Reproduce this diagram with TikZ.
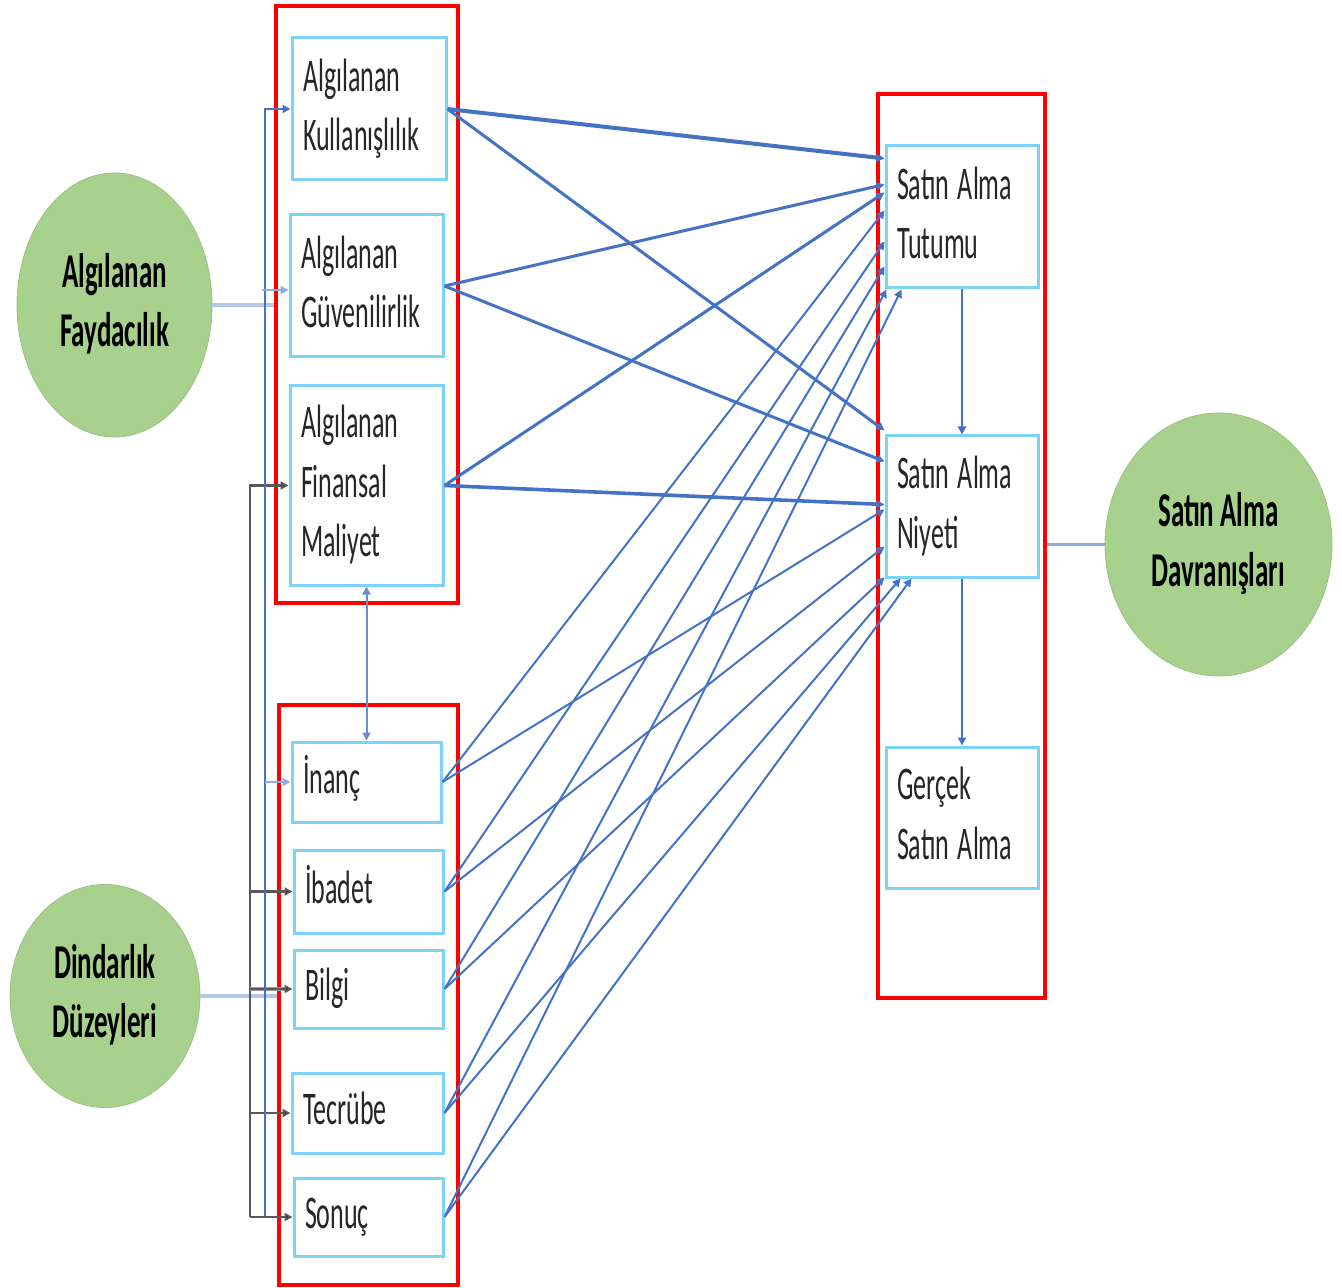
\documentclass[tikz,border=0pt]{standalone}
\usepackage{fontspec}
\setmainfont{Carlito}
\usepackage{graphicx}
\usetikzlibrary{arrows.meta,calc,shapes.geometric}

\definecolor{redc}{HTML}{FF0000}
\definecolor{boxc}{HTML}{7DD3F7}
\definecolor{linec}{HTML}{4472C4}
\definecolor{palec}{HTML}{B4C7E7}
\definecolor{midc}{HTML}{8FAADC}
\definecolor{grayc}{HTML}{595959}
\definecolor{greenc}{HTML}{A9D18E}
\definecolor{txtc}{HTML}{262626}

% tall, narrow lettering: a tabular stretched vertically
\newcommand{\vtx}[2]{\scalebox{1}[1.8]{\begin{tabular}{@{}#1@{}}#2\end{tabular}}}

\begin{document}
\begin{tikzpicture}[x=0.5pt,y=-0.5pt,
  frame/.style={draw=redc, line width=2pt, inner sep=0pt},
  cell/.style={draw=boxc, line width=1.5pt, fill=white, inner xsep=5.5pt, inner ysep=0pt,
    align=left, text=txtc, font=\fontsize{13}{16.5}\selectfont},
  cellsz/.style 2 args={cell, text width=#1, minimum height=#2},
  blob/.style={ellipse, fill=greenc, draw=greenc!92!black, line width=0.4pt, inner sep=0pt,
    text=black, font=\bfseries\fontsize{13.5}{16.5}\selectfont},
  arr/.style={-{Triangle[length=4pt,width=4pt]}},
  conn/.style={arr, draw=linec, line width=1pt},
  heavyconn/.style={arr, draw=linec, line width=1.5pt},
  bluefeed/.style={arr, draw=linec, line width=1.2pt},
  lightfeed/.style={arr, draw=midc, line width=1.2pt},
  grayfeed/.style={draw=grayc, line width=1.2pt, -{Triangle[length=4pt,width=4pt,fill=black]}},
  paleline/.style={draw=palec, line width=2.2pt},
]
\useasboundingbox (0,0) rectangle (1342,1288);

% group frames
\node[frame, minimum width=91pt, minimum height=298.5pt] (RB1) at (367,304.5) {};
\node[frame, minimum width=89.5pt, minimum height=290pt] (RB2) at (368.5,995) {};
\node[frame, minimum width=83.5pt, minimum height=452pt] (RB3) at (961.5,546) {};

% perceived factors
\node[cellsz={66pt}{71pt}] (KUL) at (369,109) {\noindent\vtx{l}{Algılanan\\Kullanışlılık}};
\node[cellsz={65.5pt}{71pt}] (GUV) at (366.5,286) {\noindent\vtx{l}{Algılanan\\Güvenilirlik}};
\node[cellsz={65.5pt}{99.5pt}] (FIN) at (366.5,485.5) {\noindent\vtx{l}{Algılanan\\Finansal\\Maliyet}};

% religiosity dimensions
\node[cellsz={63.5pt}{40pt}] (INA) at (366.5,782) {\noindent\vtx{l}{İnanç}};
\node[cellsz={63.5pt}{41.5pt}] (IBA) at (368.5,891.5) {\noindent\vtx{l}{İbadet}};
\node[cellsz={63.5pt}{39pt}] (BIL) at (368.5,989) {\noindent\vtx{l}{Bilgi}};
\node[cellsz={64.5pt}{40pt}] (TEC) at (367.5,1113) {\noindent\vtx{l}{Tecrübe}};
\node[cellsz={63.5pt}{39pt}] (SON) at (368.5,1217) {\noindent\vtx{l}{Sonuç}};

% purchase stages
\node[cellsz={65pt}{71pt}] (TUT) at (962,217) {\noindent\vtx{l}{Satın Alma\\Tutumu}};
\node[cellsz={65pt}{70.5pt}] (NIY) at (962,506.5) {\noindent\vtx{l}{Satın Alma\\Niyeti}};
\node[cellsz={65pt}{70.5pt}] (GER) at (962,817.5) {\noindent\vtx{l}{Gerçek\\Satın Alma}};

% constructs
\node[blob, minimum width=97.5pt, minimum height=132pt] (FAY) at (114.5,305) {\vtx{c}{Algılanan\\Faydacılık}};
\node[blob, minimum width=95pt, minimum height=111.5pt] (DIN) at (105,996) {\vtx{c}{Dindarlık\\Düzeyleri}};
\node[blob, minimum width=113.5pt, minimum height=131.5pt] (DAV) at (1218.5,544.5) {\vtx{c}{Satın Alma\\Davranışları}};

% construct ties
\draw[paleline] (FAY.east) -- (FAY.east -| RB1.west);
\draw[paleline] (DIN.east) -- (DIN.east -| RB2.west);
\draw[draw=midc, line width=1.2pt] (DAV.west) -- (DAV.west -| RB3.east);

% feeder rails on the left
\coordinate (blueRail) at (265,0);
\coordinate (grayRail) at (250,0);
\coordinate (guvIn) at (262,290);
\draw[grayfeed] (grayRail |- SON.west) |- (FIN.west);
\draw[grayfeed] (grayRail |- IBA.west) -- (IBA.west);
\draw[draw=grayc!60, line width=2.2pt] (grayRail |- BIL.west) -- ($(BIL.west)+(-6,0)$);
\draw[grayfeed] (grayRail |- BIL.west) -- (BIL.west);
\draw[grayfeed] (grayRail |- TEC.west) -- (TEC.west);
\draw[bluefeed] (blueRail |- SON.west) |- (KUL.west);
\draw[lightfeed] (blueRail |- INA.west) -- (INA.west);
\draw[lightfeed] (guvIn) -- (guvIn -| GUV.west);
\draw[grayfeed] (grayRail |- SON.west) -- (SON.west);

% vertical links
\draw[draw=linec!80, line width=1pt, {Triangle[length=4pt,width=4pt]}-{Triangle[length=4pt,width=4pt]}] (FIN.south) -- (INA.north);
\draw[conn] (TUT.south) -- (NIY.north);
\draw[conn] (NIY.south) -- (GER.north);

% paths from the perceived factors
\draw[heavyconn, line width=2pt] (KUL.east) -- ($(TUT.north west)+(0,14)$);
\draw[heavyconn] (KUL.east) -- ($(NIY.north west)+(0,-4)$);
\draw[heavyconn] (GUV.east) -- ($(TUT.north west)+(0,40)$);
\draw[heavyconn] (GUV.east) -- ($(NIY.north west)+(0,27)$);
\draw[heavyconn] (FIN.east) -- ($(TUT.north west)+(0,48)$);
\draw[heavyconn, line width=1.8pt] (FIN.east) -- ($(NIY.north west)+(0,70)$);

% paths from the religiosity dimensions
\draw[conn] (INA.east) -- ($(TUT.north west)+(0,66)$);
\draw[conn] (INA.east) -- ($(NIY.north west)+(0,75)$);
\draw[conn] (IBA.east) -- ($(TUT.north west)+(0,97)$);
\draw[conn] (IBA.east) -- ($(NIY.north west)+(0,112)$);
\draw[conn] (BIL.east) -- ($(TUT.north west)+(0,122)$);
\draw[conn] (BIL.east) -- ($(NIY.south west)+(0,-1)$);
\draw[conn] (TEC.east) -- ($(TUT.south west)+(2,0)$);
\draw[conn] (TEC.east) -- ($(NIY.south west)+(16,0)$);
\draw[conn] (SON.east) -- ($(TUT.south west)+(17,0)$);
\draw[conn] (SON.east) -- ($(NIY.south west)+(27,0)$);
\end{tikzpicture}
\end{document}
